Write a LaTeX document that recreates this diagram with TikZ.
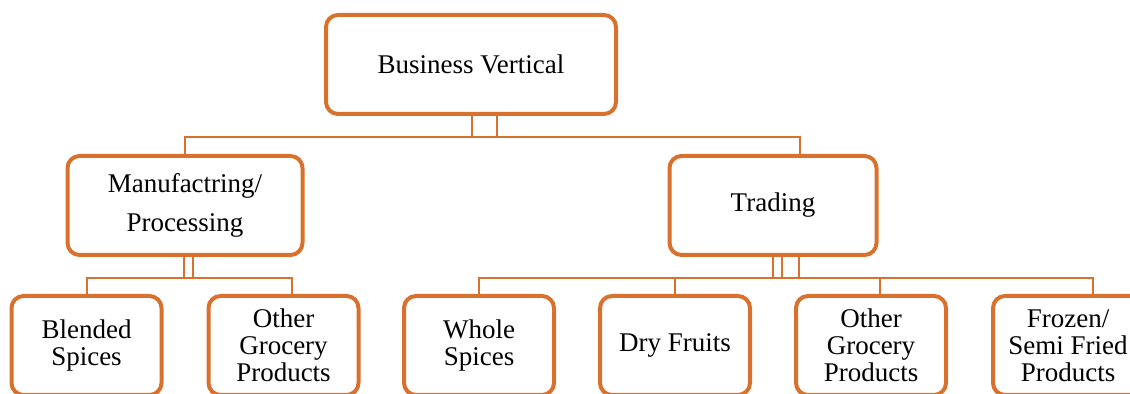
\documentclass[tikz,border=0pt]{standalone}
\usepackage{fontspec}
\setmainfont{Liberation Serif}
\usepackage{tikz}
\definecolor{boxorange}{RGB}{217,113,46}

\begin{document}
\begin{tikzpicture}[x=0.5pt, y=-0.5pt, font=\fontsize{13.5}{13.5}\selectfont,
    box/.style={draw=boxorange, line width=2pt, rounded corners=6pt, fill=white, align=center, inner sep=1pt, minimum height=49.5pt},
    link/.style={draw=boxorange, line width=1pt}]
            \useasboundingbox (0,0) rectangle (1130,394);
            \clip (0,0) rectangle (1130,394);

            \node[box, minimum width=145pt] at (471, 64.5)   (bv) {Business Vertical};
            \node[box, minimum width=117.5pt, font=\fontsize{13.5}{19.5}\selectfont] at (185, 205.5)   (mp) {Manufactring/\\Processing};
            \node[box, minimum width=103.5pt] at (773, 205.5)   (tr) {Trading};
            \node[box, minimum width=75pt] at (86.5, 345.5)   (bs) {Blended\\Spices};
            \node[box, minimum width=75pt] at (283.5, 345.5)   (og) {Other\\Grocery\\Products};
            \node[box, minimum width=75pt] at (479, 345.5)   (ws) {Whole\\Spices};
            \node[box, minimum width=75pt] at (675, 345.5)   (df) {Dry Fruits};
            \node[box, minimum width=75pt] at (871, 345.5)   (og2) {Other\\Grocery\\Products};
            \node[box, minimum width=75pt] at (1068, 345.5)   (fz) {Frozen/\\Semi Fried\\Products};

            \draw [link] ([xshift=13pt]bv.south) -- ++(0,21) -| (mp.north);
            \draw [link] ([xshift=0.5pt]bv.south) -- ++(0,21) -| ([xshift=13.5pt]tr.north);
            \draw [link] ([xshift=4pt]mp.south) -- ++(0,21) -| (bs.north);
            \draw [link] ([xshift=-0.5pt]mp.south) -- ++(0,21) -| ([xshift=4.25pt]og.north);
            \draw [link] ([xshift=13pt]tr.south) -- ++(0,21) -| (ws.north);
            \draw [link] ([xshift=4.5pt]tr.south) -- ++(0,21) -| (df.north);
            \draw [link] (tr.south) -- ++(0,21) -| ([xshift=4.5pt]og2.north);
            \draw [link] (tr.south) -- ++(0,21) -| ([xshift=12.5pt]fz.north);
        \end{tikzpicture}
\end{document}
